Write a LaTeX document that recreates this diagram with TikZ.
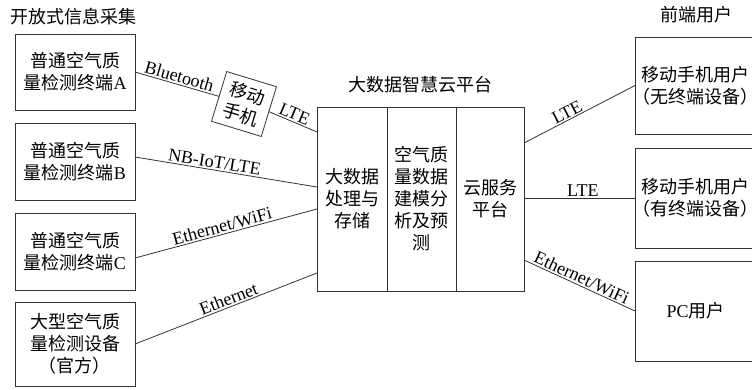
\documentclass[tikz,border=0pt]{standalone}
\usepackage{fontspec}
\setmainfont{Liberation Serif}
\newfontfamily\cjk{Noto Sans CJK SC}
\usetikzlibrary{calc}
\tikzset{
  box/.style={draw=black!80, line width=0.8pt, inner sep=0pt, outer sep=0pt, align=center, font=\cjk},
  conn/.style={draw=black!80, line width=0.8pt},
  lbl/.style={sloped, above, inner sep=1.5pt, font=\rmfamily},
  ttl/.style={font=\cjk, inner sep=0pt},
}
\begin{document}
\fontsize{18}{22}\selectfont
\begin{tikzpicture}[x=1pt,y=-1pt]
\useasboundingbox (0,0) rectangle (752,389);
\clip (0,0) rectangle (752,389);
% titles
\node[ttl] (t1) at (73,17) {开放式信息采集};
\node[ttl] (t2) at (420,85) {大数据智慧云平台};
\node[ttl] (t3) at (696,15) {前端用户};
% left boxes
\node[box, anchor=north west, minimum width=120, minimum height=76] (A) at (15,34) {普通空气质\\量检测终端{\rmfamily A}};
\node[box, anchor=north west, minimum width=120, minimum height=77] (B) at (15,123) {普通空气质\\量检测终端{\rmfamily B}};
\node[box, anchor=north west, minimum width=120, minimum height=77] (C) at (15,213) {普通空气质\\量检测终端{\rmfamily C}};
\node[box, anchor=north west, minimum width=120, minimum height=84] (D) at (15,302) {大型空气质\\量检测设备\\（官方）};
% phone
\node[box, rotate=-17, minimum width=52, minimum height=52] (ph) at (244,104) {移动\\手机};
% platform
\node[box, anchor=north west, minimum width=70, minimum height=184] (P1) at (317,107) {大数据\\处理与\\存储};
\node[box, anchor=north west, minimum width=69, minimum height=184] (P2) at (P1.north east) {空气质\\量数据\\建模分\\析及预\\测};
\node[box, anchor=north west, minimum width=68, minimum height=184] (P3) at (P2.north east) {云服务\\平台};
% right boxes
\node[box, anchor=north west, minimum width=121, minimum height=97] (R1) at (635,37) {\makebox[0pt]{移动手机用户}\\\makebox[0pt]{（无终端设备）}};
\node[box, anchor=north west, minimum width=121, minimum height=100] (R2) at (635,148) {\makebox[0pt]{移动手机用户}\\\makebox[0pt]{（有终端设备）}};
\node[box, anchor=north west, minimum width=121, minimum height=100] (R3) at (635,261) {{\rmfamily PC}用户};
% edge coordinates
\coordinate (l1) at ($(P1.north west)+(0,25)$);
\coordinate (l2) at ($(P1.north west)+(0,80)$);
\coordinate (l3) at ($(P1.north west)+(0,102)$);
\coordinate (l4) at ($(P1.north west)+(0,166)$);
\coordinate (r1) at ($(P3.north east)+(0,36)$);
\coordinate (r2) at ($(P3.north east)+(0,91)$);
\coordinate (r3) at ($(P3.north east)+(0,153)$);
\coordinate (bs) at ($(B.east)+(0,-4.5)$);
\coordinate (cs) at ($(C.east)+(0,6.5)$);
% connectors
\draw[conn] (A.east) -- node[lbl, pos=0.5] {Bluetooth} (ph.west);
\draw[conn] (ph.east) -- node[lbl, pos=0.47] {LTE} (l1);
\draw[conn] (bs) -- node[lbl, pos=0.43] {NB-IoT/LTE} (l2);
\draw[conn] (cs) -- node[lbl, pos=0.49] {Ethernet/WiFi} (l3);
\draw[conn] (D.east) -- node[lbl, pos=0.53] {Ethernet} (l4);
\draw[conn] (r1) -- node[lbl, pos=0.42] {LTE} (R1.west);
\draw[conn] (r2) -- node[lbl, pos=0.53] {LTE} (R2.west);
\draw[conn] (r3) -- node[lbl, pos=0.49] {Ethernet/WiFi} (R3.west);
\end{tikzpicture}
\end{document}
